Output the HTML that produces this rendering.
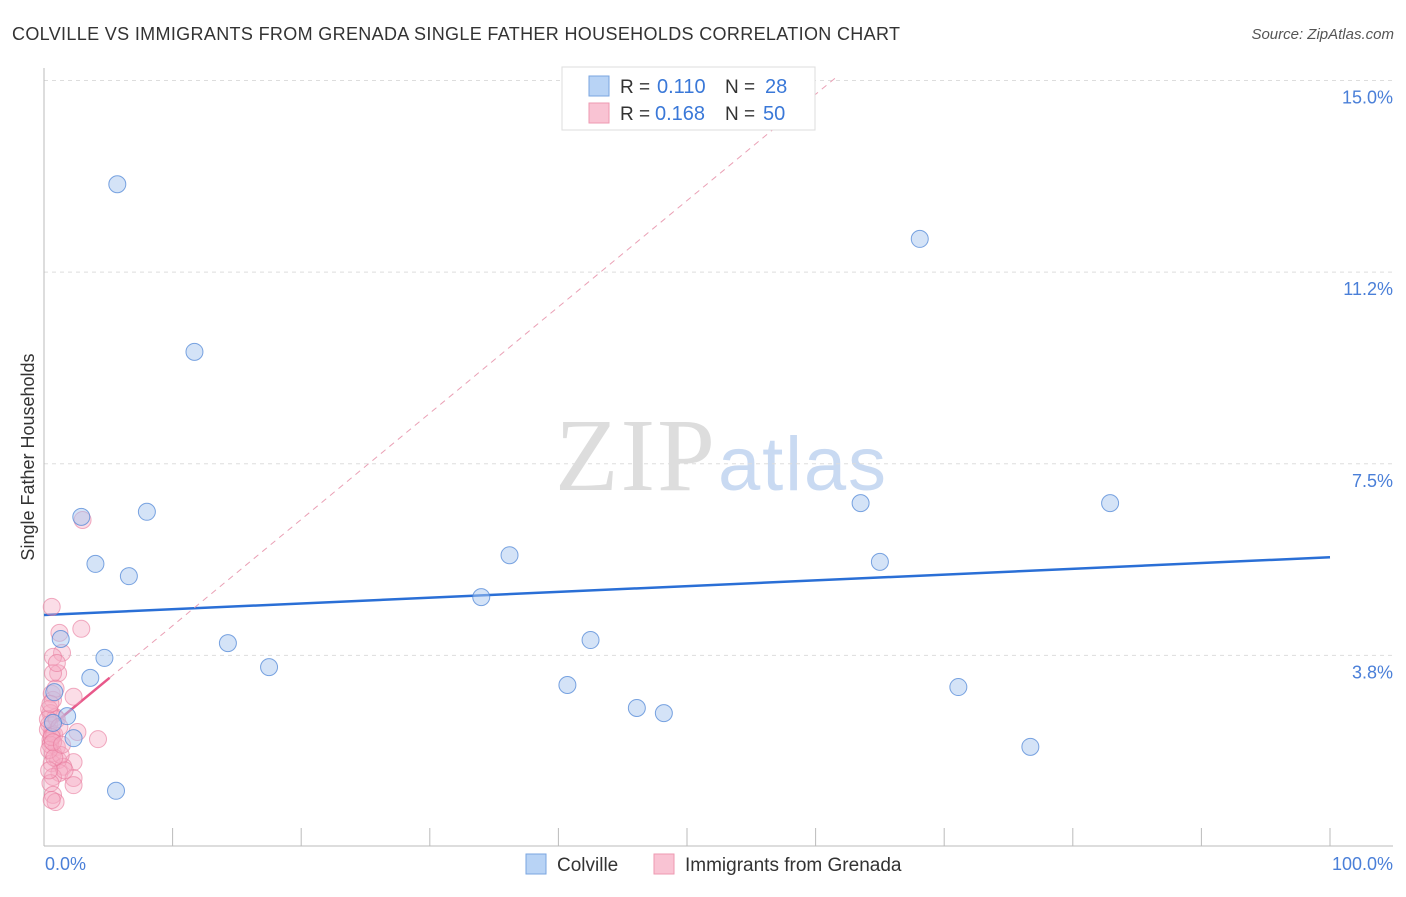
<!DOCTYPE html>
<html><head><meta charset="utf-8"><style>
body{margin:0;background:#fff;font-family:"Liberation Sans",sans-serif}
svg text{font-family:"Liberation Sans",sans-serif}
</style></head><body>
<svg width="1406" height="892" viewBox="0 0 1406 892" xmlns="http://www.w3.org/2000/svg">
<text x="12" y="40" font-size="18" fill="#333" textLength="888">COLVILLE VS IMMIGRANTS FROM GRENADA SINGLE FATHER HOUSEHOLDS CORRELATION CHART</text>
<text x="1394" y="39" font-size="15" fill="#555" font-style="italic" text-anchor="end">Source: ZipAtlas.com</text>
<text x="715" y="490" font-size="104" fill="#ddd" text-anchor="end" textLength="160" font-family="Liberation Serif" style="font-family:'Liberation Serif',serif">ZIP</text>
<text x="718" y="490" font-size="76" fill="#c9daf2" textLength="168">atlas</text>
<g id="grid"></g>
<g id="axes"></g>
<g id="lines"></g>
<g id="pts"></g>
<text transform="translate(34,457) rotate(-90)" font-size="18" fill="#333" text-anchor="middle">Single Father Households</text>
<text x="45" y="870" font-size="18" fill="#4a7fd8">0.0%</text>
<text x="1393" y="870" font-size="18" fill="#4a7fd8" text-anchor="end">100.0%</text>
<g>
<rect x="562" y="67" width="253" height="63" fill="#fff" stroke="#ddd"/>
<rect x="589" y="76" width="20" height="20" fill="#b8d3f5" stroke="#7aa6e0"/>
<rect x="589" y="103" width="20" height="20" fill="#f9c3d3" stroke="#ee9ab2"/>
<text x="620" y="93" font-size="19" fill="#333">R =</text>
<text x="657" y="93" font-size="20" fill="#3a78d8">0.110</text>
<text x="725" y="93" font-size="19" fill="#333">N =</text>
<text x="765" y="93" font-size="20" fill="#3a78d8">28</text>
<text x="620" y="120" font-size="19" fill="#333">R =</text>
<text x="655" y="120" font-size="20" fill="#3a78d8">0.168</text>
<text x="725" y="120" font-size="19" fill="#333">N =</text>
<text x="763" y="120" font-size="20" fill="#3a78d8">50</text>
</g>
<g>
<rect x="526" y="854" width="20" height="20" fill="#b8d3f5" stroke="#7aa6e0"/>
<text x="557" y="871" font-size="19" fill="#333">Colville</text>
<rect x="654" y="854" width="20" height="20" fill="#f9c3d3" stroke="#ee9ab2"/>
<text x="685" y="871" font-size="19" fill="#333">Immigrants from Grenada</text>
</g>
</svg>
<script>
const yTicks=[15.0,11.25,7.5,3.75];
const yTickLabels=["15.0%","11.2%","7.5%","3.8%"];
const xTicks=[0,10,20,30,40,50,60,70,80,90,100];
const colvilleX=[5.7,11.7,68.1,2.9,8.0,4.0,6.6,63.5,82.9,36.2,65.0,34.0,42.5,14.3,1.3,4.7,17.5,3.6,40.7,71.1,46.1,48.2,0.8,1.8,2.3,76.7,5.6,0.7];
const colvilleY=[12.97,9.69,11.9,6.46,6.56,5.54,5.30,6.73,6.73,5.71,5.58,4.89,4.05,3.99,4.07,3.70,3.52,3.31,3.17,3.13,2.72,2.62,3.03,2.56,2.13,1.96,1.10,2.43];
const grenadaX=[3.0,0.6,2.9,1.2,1.4,0.7,1.1,0.7,2.3,0.6,0.7,0.5,0.9,2.6,4.2,0.6,0.5,1.0,0.7,1.1,2.3,0.6,1.5,1.2,2.3,0.7,2.3,0.5,0.7,0.9,0.6,0.4,0.3,0.8,0.5,1.3,0.4,1.0,0.9,0.4,1.6,0.3,1.2,0.6,0.8,0.5,1.0,0.7,0.4,1.4];
const grenadaY=[6.40,4.70,4.27,4.19,3.80,3.72,3.40,3.40,2.94,3.0,2.88,2.62,2.54,2.25,2.11,2.23,2.09,1.96,1.84,1.70,1.66,1.64,1.57,1.45,1.35,1.37,1.21,1.25,1.02,0.88,0.92,2.4,2.3,2.2,2.0,1.8,2.7,2.5,3.1,1.9,1.5,2.5,2.35,2.15,1.75,2.8,3.6,2.05,1.5,2.0];
const blueFit=[4.54,5.67];
const pinkFit=[2.25,0.208];
const pinkSolidEnd=5.1, pinkDashEnd=61.5;
const X=v=>44+v*12.86, Y=v=>847-v*51.1;
const NS="http://www.w3.org/2000/svg";
function mk(tag,attrs,parent){const e=document.createElementNS(NS,tag);for(const k in attrs)e.setAttribute(k,attrs[k]);document.getElementById(parent).appendChild(e);return e;}
yTicks.forEach((t,i)=>{
  const g=mk('line',{x1:44,x2:1393,y1:Y(t),y2:Y(t),stroke:'#ddd','stroke-dasharray':'4,4'},'grid');
  
  
  const l=mk('text',{x:1393,y:Y(t)+23,'font-size':18,fill:'#4a7fd8','text-anchor':'end'},'grid');
  l.textContent=yTickLabels[i];
  
  
});
const ya=mk('line',{x1:44,x2:44,y1:68,y2:846,stroke:'#bbb'},'axes');


const xa=mk('line',{x1:44,x2:1393,y1:846,y2:846,stroke:'#bbb'},'axes');


xTicks.forEach(t=>{
  const k=mk('line',{x1:X(t),x2:X(t),y1:828,y2:846,stroke:'#bbb'},'axes');
  
  
});
const bl=mk('line',{x1:X(0),x2:X(100),y1:Y(blueFit[0]),y2:Y(blueFit[1]),stroke:'#2a6fd6','stroke-width':2.5},'lines');


const pd=mk('line',{x1:X(pinkSolidEnd),x2:X(pinkDashEnd),y1:Y(pinkFit[0]+pinkFit[1]*pinkSolidEnd),y2:Y(pinkFit[0]+pinkFit[1]*pinkDashEnd),stroke:'#eaa0b5','stroke-width':1,'stroke-dasharray':'6,5'},'lines');


const ps=mk('line',{x1:X(0),x2:X(pinkSolidEnd),y1:Y(pinkFit[0]),y2:Y(pinkFit[0]+pinkFit[1]*pinkSolidEnd),stroke:'#e8588a','stroke-width':2.5},'lines');


grenadaX.forEach((x,i)=>{
  const c=mk('circle',{cx:X(x),cy:Y(grenadaY[i]),r:8.5,fill:'rgba(246,170,195,0.4)',stroke:'rgba(232,120,155,0.6)','stroke-width':1},'pts');
  
  
});
colvilleX.forEach((x,i)=>{
  const c=mk('circle',{cx:X(x),cy:Y(colvilleY[i]),r:8.5,fill:'rgba(170,200,240,0.5)',stroke:'rgba(80,135,215,0.75)','stroke-width':1},'pts');
  
  
});
</script>
</body></html>
